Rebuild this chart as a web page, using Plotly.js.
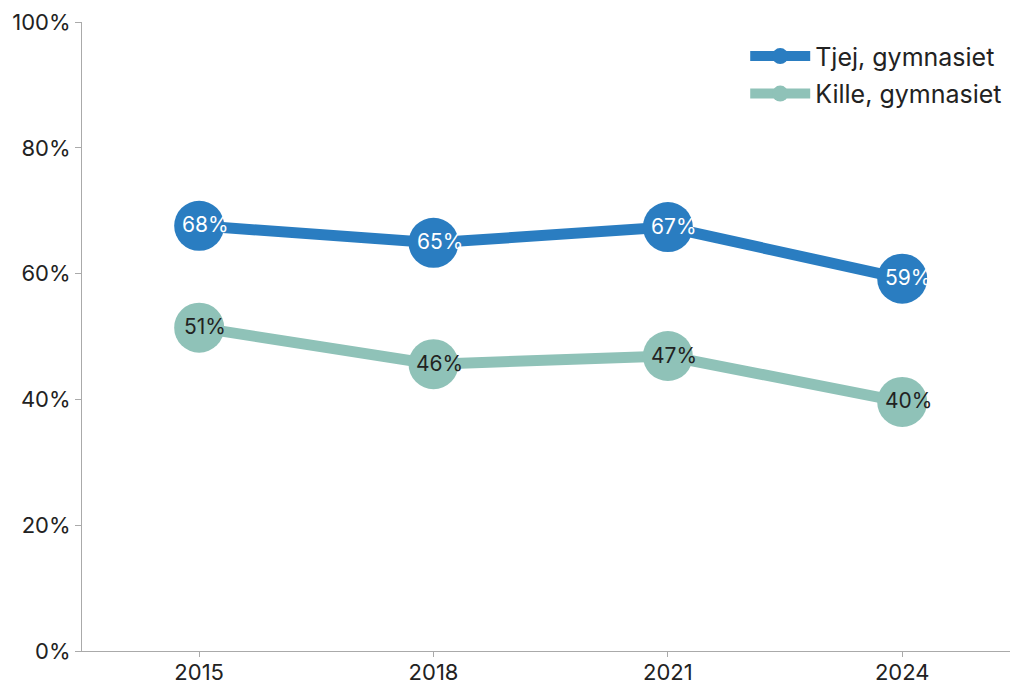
<!DOCTYPE html>
<html>
<head>
<meta charset="utf-8">
<script src="https://cdn.plot.ly/plotly-3.0.1.min.js"></script>
<style>html,body{margin:0;padding:0;background:#fff}#chart{width:1010px;height:684px}</style>
</head>
<body>
<div id="chart"></div>
<script>
const years = ['2015', '2018', '2021', '2024'];
const tjej = [67.6, 64.9, 67.4, 59.2];
const kille = [51.4, 45.6, 46.9, 39.6];
const tjejName = 'Tjej, gymnasiet';
const killeName = 'Kille, gymnasiet';
const yTicks = [0, 20, 40, 60, 80, 100];

const FONT = 'Inter, "Open Sans", sans-serif';
const BLUE = '#2a7dc1', TEAL = '#8fc2b8';

const traces = [
  {
    x: years, y: tjej, name: tjejName, legendgroup: 'a', type: 'scatter', mode: 'lines+markers',
    line: {color: BLUE, width: 11},
    marker: {color: BLUE, size: 50},
    hoverinfo: 'skip', cliponaxis: false
  },
  {
    x: years, y: kille, name: killeName, legendgroup: 'b', type: 'scatter', mode: 'lines+markers',
    line: {color: TEAL, width: 11},
    marker: {color: TEAL, size: 50},
    hoverinfo: 'skip', cliponaxis: false
  }
];

// value labels: x given as category index (years[i] position on the category axis)
function labels(vals, color) {
  return vals.map((v, i) => ({
    x: years.indexOf(years[i]), y: v, xref: 'x', yref: 'y',
    text: Math.round(v) + '%', showarrow: false,
    xshift: 6, yshift: 1,
    font: {color: color, size: 21, family: FONT}
  }));
}

const layout = {
  width: 1010, height: 684,
  margin: {l: 82, r: 0, t: 22, b: 33, pad: 0},
  paper_bgcolor: '#ffffff', plot_bgcolor: '#ffffff',
  font: {family: FONT, color: '#222222', size: 20},
  showlegend: true,
  legend: {
    x: 0.997, xanchor: 'right', y: 0.982, yanchor: 'top',
    font: {size: 25, family: FONT, color: '#222222'},
    bgcolor: 'rgba(0,0,0,0)', traceorder: 'grouped', tracegroupgap: 2, itemwidth: 60
  },
  annotations: labels(tjej, '#ffffff').concat(labels(kille, '#222222')),
  xaxis: {
    type: 'category', range: [-0.5, 3.46], fixedrange: true,
    showline: true, linecolor: '#aaaaaa', linewidth: 1,
    ticks: 'outside', ticklen: 5, tickcolor: '#aaaaaa',
    ticklabelstandoff: -3,
    showgrid: false, zeroline: false,
    tickfont: {size: 22, family: FONT, color: '#222222'}
  },
  yaxis: {
    range: [0, 100], tickvals: yTicks, ticktext: yTicks.map(v => v + '%'),
    showline: true, linecolor: '#aaaaaa', linewidth: 1,
    ticks: 'outside', ticklen: 6, tickcolor: '#aaaaaa',
    showgrid: false, zeroline: false, fixedrange: true,
    tickfont: {size: 22, family: FONT, color: '#222222'}
  }
};

Plotly.newPlot('chart', traces, layout, {displayModeBar: false, staticPlot: true});
</script>
</body>
</html>
